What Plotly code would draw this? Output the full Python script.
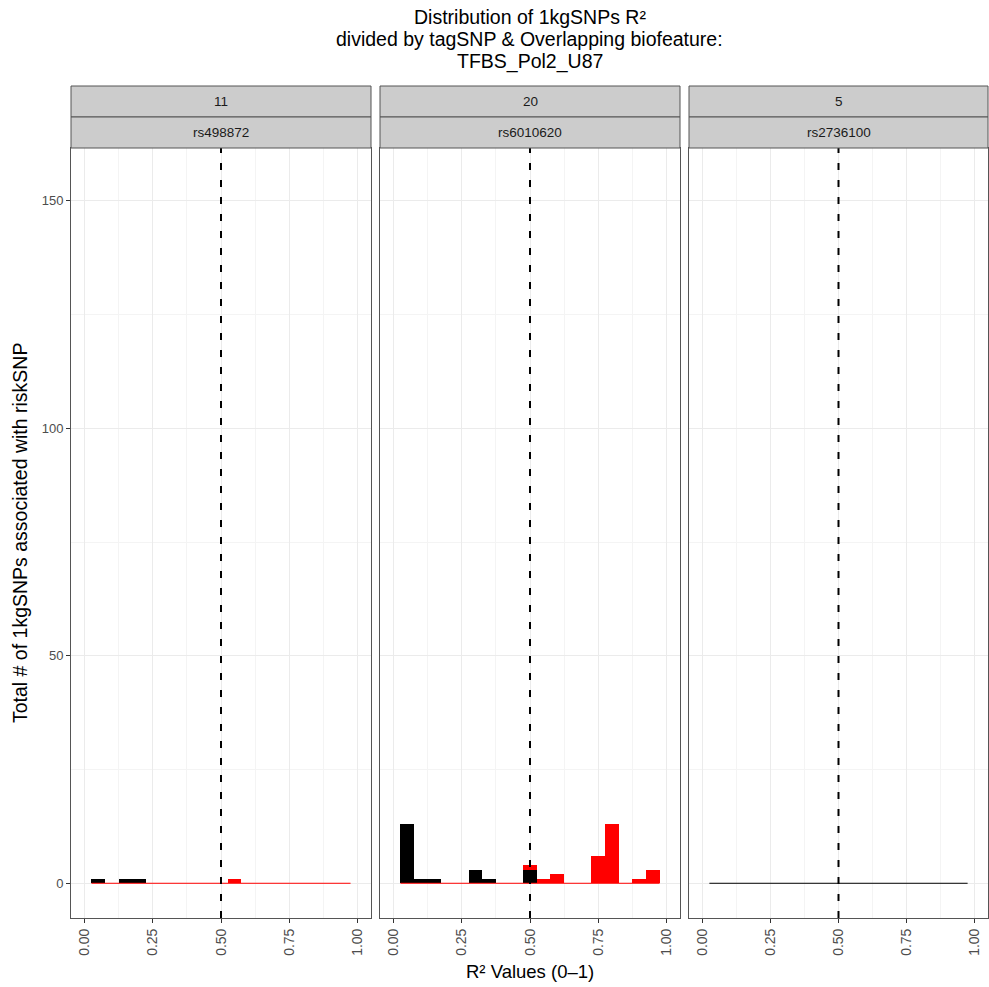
import plotly.graph_objects as go

# ---- data ----
bin_centers = [0.05, 0.10, 0.15, 0.20, 0.25, 0.30, 0.35, 0.40, 0.45, 0.50,
               0.55, 0.60, 0.65, 0.70, 0.75, 0.80, 0.85, 0.90, 0.95]
bin_width = 0.05
chromosomes = ["11", "20", "5"]
tag_snps = ["rs498872", "rs6010620", "rs2736100"]

# counts per bin: below threshold (black) / above threshold (red)
black_11 = [1, 0, 1, 1, 0, 0, 0, 0, 0, 0, 0, 0, 0, 0, 0, 0, 0, 0, 0]
red_11   = [0, 0, 0, 0, 0, 0, 0, 0, 0, 0, 1, 0, 0, 0, 0, 0, 0, 0, 0]
black_20 = [13, 1, 1, 0, 0, 3, 1, 0, 0, 3, 0, 0, 0, 0, 0, 0, 0, 0, 0]
red_20   = [0, 0, 0, 0, 0, 0, 0, 0, 0, 1, 1, 2, 0, 0, 6, 13, 0, 1, 3]
black_5  = [0, 0, 0, 0, 0, 0, 0, 0, 0, 0, 0, 0, 0, 0, 0, 0, 0, 0, 0]
red_5    = None

black_series = [black_11, black_20, black_5]
red_series = [red_11, red_20, red_5]

title_lines = ["Distribution of 1kgSNPs R²",
               "divided by tagSNP & Overlapping biofeature:",
               "TFBS_Pol2_U87"]
x_ticks = [0, 0.25, 0.5, 0.75, 1.0]
x_ticklabels = ["0.00", "0.25", "0.50", "0.75", "1.00"]
x_minor = [0.125, 0.375, 0.625, 0.875]
y_ticks = [0, 50, 100, 150]
y_minor = [25, 75, 125]
threshold = 0.5

# ---- layout geometry (reference pixel coords; body margin removed) ----
OFF = 0
W, H = 989, 987
panels_px = [(71, 371), (380, 680), (689, 988)]
panel_top_px, panel_bot_px = 148, 918
strip_mid_px = 117
strip_top_px = 86
ML = panels_px[0][0] - OFF
MT = strip_top_px - OFF
MR = W - (panels_px[2][1] - OFF)
MB = H - (panel_bot_px - OFF)
pw = W - ML - MR
ph = H - MT - MB

def px_x(p):
    return (p - OFF - ML) / pw

def px_y(p):
    return (H - MB - (p - OFF)) / ph

FONT = "Liberation Sans, Arial, sans-serif"
fig = go.Figure()

shapes = []
annotations = []
y_dom = [0, px_y(panel_top_px)]

for i in range(3):
    xa = "x" if i == 0 else f"x{i+1}"
    ya = "y" if i == 0 else f"y{i+1}"
    xname = "xaxis" if i == 0 else f"xaxis{i+1}"
    yname = "yaxis" if i == 0 else f"yaxis{i+1}"
    line_color = "red" if red_series[i] is not None else "black"
    # zero baseline spanning the histogram bins
    fig.add_trace(go.Scatter(
        x=[bin_centers[0] - bin_width / 2, bin_centers[-1] + bin_width / 2],
        y=[0, 0], mode="lines", line=dict(color=line_color, width=1),
        xaxis=xa, yaxis=ya, showlegend=False, hoverinfo="skip"))
    fig.add_trace(go.Bar(
        x=bin_centers, y=black_series[i], width=bin_width,
        marker=dict(color="black", line=dict(width=0)),
        xaxis=xa, yaxis=ya, showlegend=False))
    if red_series[i] is not None:
        fig.add_trace(go.Bar(
            x=bin_centers, y=red_series[i], width=bin_width,
            marker=dict(color="red", line=dict(width=0)),
            xaxis=xa, yaxis=ya, showlegend=False))

    l, r = panels_px[i]
    fig.layout[xname] = dict(
        domain=[px_x(l), px_x(r)], anchor=ya, range=[-0.05, 1.05],
        tickvals=x_ticks, ticktext=x_ticklabels, tickangle=-90,
        tickfont=dict(family=FONT, size=14, color="#4D4D4D"),
        ticks="outside", ticklen=4, tickcolor="#333333", tickwidth=1,
        showgrid=True, gridcolor="#EBEBEB", gridwidth=1,
        minor=dict(tickvals=x_minor, showgrid=True, gridcolor="#F4F4F4", gridwidth=1, ticks=""),
        showline=True, mirror=True, linecolor="#555555", linewidth=1,
        zeroline=False, fixedrange=True)
    fig.layout[yname] = dict(
        domain=y_dom, anchor=xa, range=[-7.63, 161.6],
        tickvals=y_ticks, ticktext=[str(v) for v in y_ticks],
        showticklabels=(i == 0),
        tickfont=dict(family=FONT, size=13, color="#4D4D4D"),
        ticks="outside" if i == 0 else "", ticklen=4, tickcolor="#333333", tickwidth=1,
        showgrid=True, gridcolor="#EBEBEB", gridwidth=1,
        minor=dict(tickvals=y_minor, showgrid=True, gridcolor="#F4F4F4", gridwidth=1, ticks=""),
        showline=True, mirror=True, linecolor="#555555", linewidth=1,
        zeroline=False, fixedrange=True)

    # threshold line
    shapes.append(dict(type="line", xref=xa, yref=f"{ya} domain",
                       x0=threshold, x1=threshold, y0=0, y1=1,
                       line=dict(color="black", width=2, dash="7px,10px")))
    # strips
    for (top, bot, label) in [(strip_top_px, strip_mid_px, chromosomes[i]),
                              (strip_mid_px, panel_top_px, tag_snps[i])]:
        shapes.append(dict(type="rect", xref="paper", yref="paper",
                           x0=px_x(l), x1=px_x(r), y0=px_y(bot), y1=px_y(top),
                           fillcolor="#CCCCCC", line=dict(color="#555555", width=1),
                           layer="above"))
        annotations.append(dict(text=label, xref="paper", yref="paper",
                                x=(px_x(l) + px_x(r)) / 2, y=(px_y(bot) + px_y(top)) / 2,
                                xanchor="center", yanchor="middle", showarrow=False,
                                font=dict(family=FONT, size=13.5, color="#1A1A1A")))

# title lines
plot_center = (px_x(panels_px[0][0]) + px_x(panels_px[2][1])) / 2
for line_text, ypx in zip(title_lines, [17, 39, 61]):
    annotations.append(dict(text=line_text, xref="paper", yref="paper",
                            x=plot_center, y=px_y(ypx), xanchor="center", yanchor="middle",
                            showarrow=False, font=dict(family=FONT, size=19.5, color="black")))

annotations.append(dict(text="Total # of 1kgSNPs associated with riskSNP",
                        xref="paper", yref="paper", x=px_x(20), y=(y_dom[0] + y_dom[1]) / 2,
                        textangle=-90, showarrow=False, xanchor="center", yanchor="middle",
                        font=dict(family=FONT, size=19.5, color="black")))
annotations.append(dict(text="R² Values (0–1)", xref="paper", yref="paper",
                        x=plot_center, y=px_y(971), showarrow=False, xanchor="center", yanchor="middle",
                        font=dict(family=FONT, size=18.5, color="black")))

fig.update_layout(
    width=W, height=H, margin=dict(l=ML, r=MR, t=MT, b=MB),
    paper_bgcolor="white", plot_bgcolor="white",
    barmode="stack", bargap=0, showlegend=False,
    shapes=shapes, annotations=annotations)

fig.write_html("out.html", default_width=f"{W}px", default_height=f"{H}px",
               config={"displayModeBar": False},
               post_script="document.body.style.margin='0px';document.body.style.overflow='hidden';")
